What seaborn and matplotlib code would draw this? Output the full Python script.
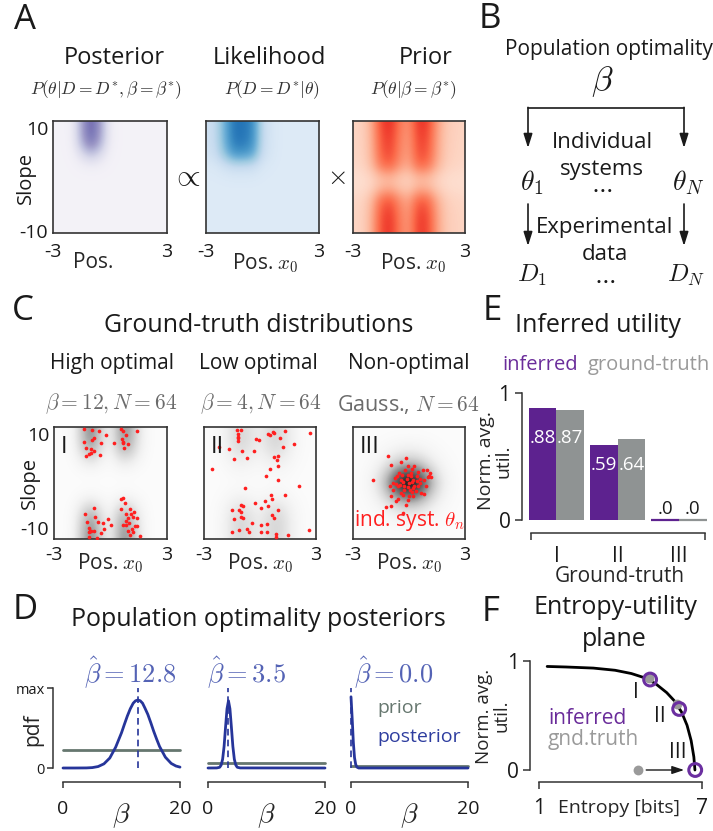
import numpy as np
import pandas as pd
import matplotlib
matplotlib.use("Agg")
import matplotlib.pyplot as plt
import seaborn as sns

# ---------------------------------------------------------------- data
pos_grid = [-3.0, -2.5, -2.0, -1.5, -1.0, -0.5, 0.0, 0.5, 1.0, 1.5, 2.0, 2.5, 3.0]
slope_grid = [10, 8, 6, 4, 2, 0, -2, -4, -6, -8, -10]

# A: marginal profiles (over position and slope) of posterior, likelihood, prior
posterior_pos = [0, 0, 0.05, 0.55, 1.0, 0.6, 0.08, 0, 0, 0, 0, 0, 0]
posterior_slope = [1.0, 1.0, 0.85, 0.4, 0.08, 0, 0, 0, 0, 0, 0]
likelihood_pos = [0.12, 0.2, 0.6, 1.0, 1.0, 0.85, 0.2, 0.05, 0, 0, 0, 0, 0]
likelihood_slope = [1.0, 1.0, 0.95, 0.75, 0.2, 0.03, 0, 0, 0, 0, 0]
prior_pos = [0.08, 0.1, 0.3, 0.85, 1.0, 0.6, 0.45, 0.95, 0.9, 0.4, 0.15, 0.1, 0.08]
prior_slope = [1.0, 0.95, 0.9, 0.85, 0.7, 0.25, 0.3, 0.75, 0.9, 0.95, 0.95]

# C: ground-truth densities (marginal profiles)
high_pos = [0, 0, 0.08, 0.6, 1.0, 0.45, 0.15, 0.8, 0.85, 0.3, 0.03, 0, 0]
high_slope = [0.95, 0.9, 0.7, 0.3, 0.04, 0, 0.06, 0.4, 0.75, 0.9, 0.95]
low_pos = [0, 0.03, 0.2, 0.6, 0.85, 0.6, 0.4, 0.75, 0.85, 0.5, 0.15, 0.03, 0]
low_slope = [0.8, 0.85, 0.7, 0.4, 0.15, 0.05, 0.2, 0.55, 0.8, 0.85, 0.8]
gauss_pos = [0, 0.02, 0.08, 0.25, 0.55, 0.88, 1.0, 0.88, 0.55, 0.25, 0.08, 0.02, 0]
gauss_slope = [0, 0.02, 0.1, 0.3, 0.7, 1.0, 0.7, 0.3, 0.1, 0.02, 0]

# C: sampled individual systems (position x0, slope)
high_sys_pos = [-1.42, -0.98, -0.60, -0.26, -0.90, -0.96, -1.42, -0.53, -1.31, -1.05, -0.87, -1.06, -1.31, -0.58, -1.12,
                0.57, 0.68, 1.39, 0.82, 0.59, 0.64, 0.68, 0.94, 0.21, 0.71,
                -0.89, -1.35, -0.83, -1.26, -0.64, -0.41, -0.14, 0.02, -1.15, -1.08, -0.87, -1.13, -0.51, -0.32, -0.73, -1.15, -1.03,
                0.55, 0.68, 0.77, 0.55, 1.01, 1.23, 0.84, 1.09, 1.17, 1.40, 0.93, 1.00, 0.84, 0.64, 1.30, 1.40, 0.93, 1.19, 1.01, 1.58, 1.12, 0.84]
high_sys_slope = [9.64, 9.52, 9.35, 8.51, 7.98, 7.74, 7.32, 7.20, 6.25, 6.13, 5.65, 5.30, 4.88, 4.94, 5.18,
                  9.64, 9.29, 9.29, 8.51, 7.92, 7.32, 7.08, 7.02, 7.20, 6.19,
                  -4.52, -5.48, -6.01, -6.96, -6.96, -7.08, -6.37, -7.44, -8.10, -8.57, -8.57, -8.81, -8.93, -8.27, -9.88, -9.64, -8.51,
                  -2.86, -2.62, -3.57, -4.70, -4.70, -5.12, -5.48, -5.54, -6.07, -6.25, -6.19, -7.20, -7.50, -7.56, -7.62, -7.62, -8.57, -8.81, -9.29, -9.40, -8.21, -6.85]
low_sys_pos = [-1.21, -1.04, -1.20, -1.16, -1.18, -1.20, -1.68, -0.95, -0.30, -1.41, -0.70, -0.21, -0.04, 0.43, 0.52, 0.68,
               0.77, 1.36, 1.07, 1.80, 1.23, 2.70, 0.75, 0.95, 0.93, 0.96, 0.54, 0.34, 0.98, -2.55, 2.09, -0.82,
               0.59, 1.32, 0.64, 0.27, -0.29, -1.02, -0.89, 0.05, 0.41, -1.50, -1.13, -1.02, 0.96, 0.64, 0.77, -1.00,
               -0.89, -1.41, 0.36, 0.04, -0.41, -1.13, -1.48, -0.70, -0.61, 0.07, 0.36, 0.86, 0.88, 1.52, 2.61, -2.20]
low_sys_slope = [9.52, 9.40, 8.75, 8.15, 7.98, 7.44, 6.13, 5.65, 5.65, 4.35, 4.46, 7.92, 7.68, 8.75, 8.63, 9.17,
                 8.93, 9.29, 7.98, 6.96, 6.43, 8.93, 4.58, 4.76, 4.05, 2.98, 2.44, 1.19, 0.60, 2.44, -0.54, -0.95,
                 -2.08, -2.20, -2.92, -3.15, -3.63, -3.93, -4.05, -4.40, -4.05, -4.88, -4.88, -5.12, -4.76, -5.71, -6.31, -6.07,
                 -6.31, -6.37, -7.32, -7.44, -7.08, -8.39, -8.69, -8.27, -8.69, -8.69, -8.69, -9.11, -9.70, -9.35, -8.39, 6.37]
gauss_sys_pos = [-1.13, -0.14, -0.95, -0.45, -0.04, 0.18, 0.29, 0.48, 0.75, 0.98, 1.13, 1.18, 1.02, 0.79, -0.54, -0.36,
                 -0.62, -0.75, -0.86, -1.04, -0.70, -0.34, -0.13, 0.00, 0.14, 0.23, 0.41, 0.61, 0.50, 0.23, -0.04, -0.27,
                 -0.45, -0.30, -0.02, 0.20, -0.07, -0.14, -0.57, -0.71, -0.98, -1.23, -0.96, -0.32, 0.82, 0.57, 0.11, -0.41,
                 -0.59, -0.86, -1.95, 0.09, -0.21, 0.36, 0.63, 0.89, 1.07, -0.07, 0.29, -0.50, -0.27, 0.14, 0.45, 0.04]
gauss_sys_slope = [4.82, 4.52, 3.21, 3.75, 2.98, 2.56, 3.04, 2.02, 2.38, 2.38, 1.73, 1.07, 1.01, 0.60, 1.85, 1.43,
                   1.19, 0.89, 0.00, -0.60, -0.18, 0.24, 0.71, 0.00, 0.12, 0.60, 1.19, 0.00, -0.60, -0.89, -0.71, -1.25,
                   -1.79, -2.20, -2.26, -2.26, -2.98, -3.87, -2.86, -3.21, -2.32, -4.35, -4.05, -5.36, -1.90, 0.71, 1.19, 0.60,
                   -0.60, -1.19, 0.60, 1.79, 2.38, -1.49, -1.79, -0.60, 1.19, 1.49, -0.60, -0.30, -0.60, -1.67, 0.30, -1.19]

# D: population optimality posteriors over beta
beta_high = [0, 2, 4, 5, 6, 7, 8, 9, 10, 10.5, 11, 11.5, 12, 12.4, 12.8, 13.2, 13.6, 14, 14.5, 15, 15.5, 16, 16.5, 17.5, 18.5, 19.3, 20]
pdf_high = [0, 0, 0.001, 0.005, 0.018, 0.052, 0.125, 0.26, 0.44, 0.547, 0.65, 0.74, 0.81, 0.84, 0.85, 0.84, 0.81, 0.75, 0.67,
            0.568, 0.46, 0.362, 0.27, 0.135, 0.057, 0.025, 0.011]
beta_low = [0, 1.5, 2, 2.25, 2.5, 2.75, 3, 3.25, 3.5, 3.75, 4, 4.25, 4.5, 4.75, 5, 5.5, 20]
pdf_low = [0, 0.001, 0.009, 0.037, 0.11, 0.27, 0.51, 0.74, 0.84, 0.74, 0.51, 0.27, 0.11, 0.037, 0.009, 0.001, 0]
beta_none = [0, 0.2, 0.4, 0.6, 0.8, 1.0, 1.3, 20]
pdf_none = [0.89, 0.62, 0.32, 0.13, 0.045, 0.012, 0.0, 0.0]
prior_level = [0.23, 0.06, 0.03]
beta_hat = [12.8, 3.5, 0.0]

# E: normalised average utility
cases = ["I", "II", "III"]
util_inferred = [0.88, 0.59, 0.0]
util_truth = [0.87, 0.64, 0.0]

# F: entropy-utility frontier and the three populations
frontier_entropy = [1.3, 2.0, 3.0, 3.8, 4.4, 4.9, 5.3, 5.7, 6.0, 6.25, 6.45, 6.6, 6.7, 6.74]
frontier_util = [0.95, 0.945, 0.935, 0.915, 0.885, 0.845, 0.79, 0.71, 0.63, 0.53, 0.41, 0.27, 0.12, 0.0]
inferred_entropy = [5.09, 6.16, 6.75]
inferred_util = [0.83, 0.56, 0.0]
truth_entropy = [5.05, 6.07, 4.64]
truth_util = [0.845, 0.61, 0.0]

# ---------------------------------------------------------------- style
sns.set_theme(style="ticks")
plt.rcParams["font.family"] = ["Open Sans", "DejaVu Sans"]
plt.rcParams["mathtext.fontset"] = "cm"
INK = "#1a1a1a"
PURPLE = "#5d228f"
GREY = "#8f9393"
NAVY = "#26359a"
HAT_BLUE = "#5463b5"
PRIOR_GREY = "#66776f"
RED = "#ff1f1f"
plt.rcParams.update({"axes.edgecolor": "#333333", "xtick.color": "#333333", "ytick.color": "#333333",
                     "xtick.labelcolor": INK, "ytick.labelcolor": INK, "text.color": INK,
                     "axes.linewidth": 1.1})

W, H = 713, 831
fig = plt.figure(figsize=(W / 100, H / 100), dpi=100)


def frame(x0, y0, x1, y1):
    ax = fig.add_axes([x0 / W, 1 - y1 / H, (x1 - x0) / W, (y1 - y0) / H])
    ax.set_facecolor("none")
    return ax


ov = fig.add_axes([0, 0, 1, 1], zorder=10)
ov.set_xlim(0, W)
ov.set_ylim(H, 0)
ov.axis("off")


def label(x, y, s, size, **kw):
    kw.setdefault("ha", "center")
    kw.setdefault("va", "center")
    return ov.text(x, y, s, fontsize=size, **kw)


def density(ax, prof_pos, prof_slope, cmap, lo, hi):
    img = np.outer(prof_slope, prof_pos)
    dx = (pos_grid[1] - pos_grid[0]) / 2
    dy = (slope_grid[0] - slope_grid[1]) / 2
    vmin = -lo / (hi - lo)
    vmax = vmin + 1 / (hi - lo)
    ax.imshow(img, cmap=cmap, vmin=vmin, vmax=vmax, interpolation="bicubic", aspect="auto", origin="upper",
              extent=[pos_grid[0] - dx, pos_grid[-1] + dx, slope_grid[-1] - dy, slope_grid[0] + dy])
    ax.set_xlim(-3, 3)
    ax.set_ylim(-10, 10)
    for sp in ax.spines.values():
        sp.set_visible(True)
        sp.set_color("#333333")
        sp.set_linewidth(1.2)
    ax.set_xticks([-3, 3], labels=["-3", "3"])
    ax.set_yticks([])
    ax.tick_params(length=0, labelsize=14)


def slope_ticks(ax, top_va, bottom_va):
    ax.set_yticks([10, -10], labels=["10", "-10"])
    ax.tick_params(axis="y", length=0, pad=3.5, labelsize=14)
    ticks = ax.yaxis.get_major_ticks()
    ticks[0].label1.set_va(top_va)
    ticks[1].label1.set_va(bottom_va)


# ---------------------------------------------------------------- A
a_boxes = [(53, 121, 167, 233), (206, 121, 319, 233), (353, 121, 465, 233)]
a_specs = [(posterior_pos, posterior_slope, "Purples", 0.08, 0.74),
           (likelihood_pos, likelihood_slope, "Blues", 0.13, 0.74),
           (prior_pos, prior_slope, "Reds", 0.12, 0.68)]
a_xlabels = ["Pos.", r"Pos. $x_0$", r"Pos. $x_0$"]
a_xlabel_x = [93, 265, 413]
for box, spec, xl, lx in zip(a_boxes, a_specs, a_xlabels, a_xlabel_x):
    ax = frame(*box)
    density(ax, *spec)
    ax.tick_params(axis="x", pad=7)
    ax.set_xlabel(xl, fontsize=15, va="center")
    ax.xaxis.set_label_coords((lx - box[0]) / (box[2] - box[0]), -(263 - box[3]) / (box[3] - box[1]))
    if box[0] == 53:
        slope_ticks(ax, "top", "center")

label(25, 20, "A", 25)
label(114, 58, "Posterior", 17)
label(269, 58, "Likelihood", 17)
label(426, 58, "Prior", 17)
label(106, 90, r"$P(\theta|D=D^{*},\beta=\beta^{*})$", 12.5, color="#333333")
label(272, 90, r"$P(D=D^{*}|\theta)$", 12.5, color="#333333")
label(413, 90, r"$P(\theta|\beta=\beta^{*})$", 12.5, color="#333333")
label(186, 177, r"$\propto$", 22)
label(336, 177, r"$\times$", 19)
label(26, 178, "Slope", 14.5, rotation=90)

# ---------------------------------------------------------------- B
label(490, 19, "B", 25)
label(609, 50, "Population optimality", 15)
label(602, 82, r"$\beta$", 25)
ov.plot([528, 684], [108, 108], color=INK, lw=1.2)
arrow = dict(arrowstyle="-|>,head_length=0.7,head_width=0.22", color=INK, lw=1.2, shrinkA=0, shrinkB=0)
for xa in (528, 684):
    ov.annotate("", xy=(xa, 148), xytext=(xa, 107.4), arrowprops=arrow)
    ov.annotate("", xy=(xa, 246), xytext=(xa, 204), arrowprops=arrow)
label(602, 142, "Individual", 16)
label(602, 169, "systems", 16)
label(602, 190, r"$\cdots$", 17)
label(532, 183, r"$\theta_1$", 20)
label(688, 183, r"$\theta_N$", 20)
label(605, 227, "Experimental", 16)
label(605, 254, "data", 16)
label(605, 281, r"$\cdots$", 17)
label(532, 275, r"$D_1$", 18)
label(686, 275, r"$D_N$", 18)

# ---------------------------------------------------------------- C
c_boxes = [(54, 427, 167, 539), (204, 427, 316, 539), (353, 427, 465, 539)]
c_specs = [(high_pos, high_slope, "Greys", 0.03, 0.6),
           (low_pos, low_slope, "Greys", 0.03, 0.36),
           (gauss_pos, gauss_slope, "Greys", 0.03, 1.0)]
c_points = [(high_sys_pos, high_sys_slope), (low_sys_pos, low_sys_slope), (gauss_sys_pos, gauss_sys_slope)]
c_roman = ["I", "II", "III"]
for box, spec, pts, rn in zip(c_boxes, c_specs, c_points, c_roman):
    ax = frame(*box)
    density(ax, *spec)
    sns.scatterplot(x=pts[0], y=pts[1], color=RED, s=7, linewidth=0, ax=ax, zorder=3)
    ax.set_xlim(-3, 3)
    ax.set_ylim(-10, 10)
    ax.tick_params(axis="x", pad=5)
    ax.set_xlabel(r"Pos. $x_0$", fontsize=15, va="center")
    ax.xaxis.set_label_coords(0.5, -(563 - box[3]) / (box[3] - box[1]))
    ax.text(0.06, 0.93, rn, transform=ax.transAxes, fontsize=17, ha="left", va="top", color=INK)
    if box[0] == 54:
        slope_ticks(ax, "top", "bottom")
    if rn == "III":
        ax.text(0.5, 0.05, r"ind. syst. $\theta_n$", transform=ax.transAxes, fontsize=15,
                ha="center", va="bottom", color=RED)

label(23, 311, "C", 25)
label(259, 326, "Ground-truth distributions", 18)
label(112, 364, "High optimal", 15)
label(258, 364, "Low optimal", 15)
label(409, 364, "Non-optimal", 15)
label(111, 404, r"$\beta = 12, N = 64$", 15.5, color="#6b6b6b")
label(261, 404, r"$\beta = 4, N = 64$", 15.5, color="#6b6b6b")
label(408, 404, r"Gauss., $N = 64$", 15.5, color="#6b6b6b")
label(30, 483, "Slope", 14.5, rotation=90)

# ---------------------------------------------------------------- D
d_left = [63, 208, 351]
d_curves = [(beta_high, pdf_high), (beta_low, pdf_low), (beta_none, pdf_none)]
d_hat_x = [130, 247, 394]
for i, (x0, (bx, by)) in enumerate(zip(d_left, d_curves)):
    ax = frame(x0, 688, x0 + 117, 768)
    sns.lineplot(x=[0, 20], y=[prior_level[i], prior_level[i]], color=PRIOR_GREY, lw=2, ax=ax)
    sns.lineplot(x=bx, y=by, color=NAVY, lw=2, ax=ax)
    ax.axvline(beta_hat[i], ymin=0, ymax=1, color=NAVY, lw=1.2, ls=(0, (4, 2.5)))
    for ln in ax.lines:
        ln.set_clip_on(False)
    ax.set_xlim(0, 20)
    ax.set_ylim(0, 1)
    ax.spines[["top", "right"]].set_visible(False)
    ax.spines["bottom"].set_position(("outward", 10))
    ax.set_xticks([0, 20], labels=["0", "20"])
    ax.tick_params(axis="x", length=4, width=1.1, pad=9, labelsize=14)
    ax.set_xlabel(r"$\beta$", fontsize=20, va="center")
    ax.xaxis.set_label_coords(0.5, -(816 - 768) / 80)
    if i == 0:
        ax.spines["left"].set_position(("outward", 7))
        ax.set_yticks([0, 1], labels=["0", "max"])
        ax.tick_params(axis="y", length=4, width=1.1, pad=2, labelsize=10.5)
        ax.set_ylabel("pdf", fontsize=15, va="center")
        ax.yaxis.set_label_coords(-(63 - 33) / 117, (768 - 730) / 80)
    else:
        ax.spines["left"].set_visible(False)
        ax.set_yticks([])
    label(d_hat_x[i], 673, rf"$\hat{{\beta}} = {beta_hat[i]:.1f}$", 19, color=HAT_BLUE)

label(25, 610, "D", 25)
label(258, 619, "Population optimality posteriors", 18)
label(377, 708, "prior", 14, ha="left", color=PRIOR_GREY)
label(377, 737, "posterior", 14, ha="left", color="#2e3d9f")

# ---------------------------------------------------------------- E
ax = frame(525.8, 393, 709.7, 520)
util_df = pd.DataFrame({"case": cases * 2,
                        "kind": ["inferred"] * 3 + ["ground-truth"] * 3,
                        "util": util_inferred + util_truth})
sns.barplot(data=util_df, x="case", y="util", hue="kind", palette=[PURPLE, GREY], width=0.9, gap=0,
            saturation=1, errorbar=None, legend=False, ax=ax)
for container in ax.containers:
    for bar in container:
        bar.set_edgecolor(bar.get_facecolor())
        bar.set_linewidth(1.6 if bar.get_height() == 0 else 0)
        bar.set_clip_on(False)
for container, vals in zip(ax.containers, [util_inferred, util_truth]):
    for bar, v, ref in zip(container, vals, util_inferred):
        txt = str(v).lstrip("0")
        cx = bar.get_x() + bar.get_width() / 2
        if v > 0.1:
            ax.text(cx, 0.73 * ref, txt, ha="center", va="center", color="white", fontsize=13.5)
        else:
            ax.text(cx, v + 0.085, txt, ha="center", va="center", color=INK, fontsize=13.5)
ax.set_xlim(-0.5, 2.5)
ax.set_ylim(0, 1)
ax.spines[["top", "right"]].set_visible(False)
ax.spines["left"].set_position(("outward", 3))
ax.spines["bottom"].set_position(("outward", 9.5))
ax.spines["bottom"].set_bounds(-0.42, 2.42)
ax.set_yticks([0, 1], labels=["0", "1"])
ax.tick_params(axis="y", length=5, width=1.1, pad=3, labelsize=15)
ax.set_xticks([-0.42, 2.42], minor=True)
ax.tick_params(axis="x", which="major", length=0, pad=9, labelsize=15)
ax.tick_params(axis="x", which="minor", length=5, width=1.1)
ax.set_xlabel("Ground-truth", fontsize=15, va="center")
ax.xaxis.set_label_coords((620 - 525.8) / 183.9, -(577 - 520) / 127)
ax.set_ylabel("Norm. avg.\nutil.", fontsize=14, va="center", linespacing=0.95)
ax.yaxis.set_label_coords((495 - 525.8) / 183.9, (520 - 461) / 127)

label(492, 311, "E", 25)
label(598, 326, "Inferred utility", 18)
label(502, 365, "inferred", 14.5, ha="left", color="#6a2c9a")
label(588, 365, "ground-truth", 14.5, ha="left", color="#9a9a9a")

# ---------------------------------------------------------------- F
ax = frame(539, 661, 702, 770)
sns.lineplot(x=frontier_entropy, y=frontier_util, color="black", lw=2, ax=ax)
sns.scatterplot(x=truth_entropy, y=truth_util, color="#9a9a9a", s=50, linewidth=0, ax=ax, zorder=3)
sns.scatterplot(x=inferred_entropy, y=inferred_util, s=85, facecolor="none", edgecolor="#6b2fa0",
                linewidth=2.2, ax=ax, zorder=4)
ax.annotate("", xy=(inferred_entropy[2], inferred_util[2]), xytext=(truth_entropy[2], truth_util[2]),
            arrowprops=dict(arrowstyle="-|>,head_length=0.6,head_width=0.2", color=INK, lw=1.0,
                            shrinkA=6, shrinkB=8))
for art in ax.lines + ax.collections:
    art.set_clip_on(False)
ax.set_xlim(1, 7)
ax.set_ylim(0, 1)
ax.spines[["top", "right"]].set_visible(False)
ax.spines["left"].set_position(("outward", 6.5))
ax.spines["bottom"].set_position(("outward", 8.5))
ax.set_yticks([0, 1], labels=["0", "1"])
ax.set_xticks([1, 7], labels=["1", "7"])
ax.tick_params(axis="y", length=5, width=1.1, pad=3, labelsize=15)
ax.tick_params(axis="x", length=5, width=1.1, pad=7, labelsize=15)
ax.set_xlabel("Entropy [bits]", fontsize=14, va="center")
ax.xaxis.set_label_coords((619 - 539) / 163, -(808 - 770) / 109)
ax.set_ylabel("Norm. avg.\nutil.", fontsize=13.5, va="center", linespacing=0.95)
ax.yaxis.set_label_coords((493 - 539) / 163, (770 - 716) / 109)

label(491, 612, "F", 25)
label(615, 607, "Entropy-utility", 18)
label(614, 639, "plane", 18)
label(636, 693, "I", 15)
label(660, 717, "II", 15)
label(678, 753, "III", 15)
label(548, 718, "inferred", 15, ha="left", color="#6a2c9a")
label(548, 739, "gnd.truth", 15, ha="left", color="#9a9a9a")

fig.savefig("out.png", dpi=100)
